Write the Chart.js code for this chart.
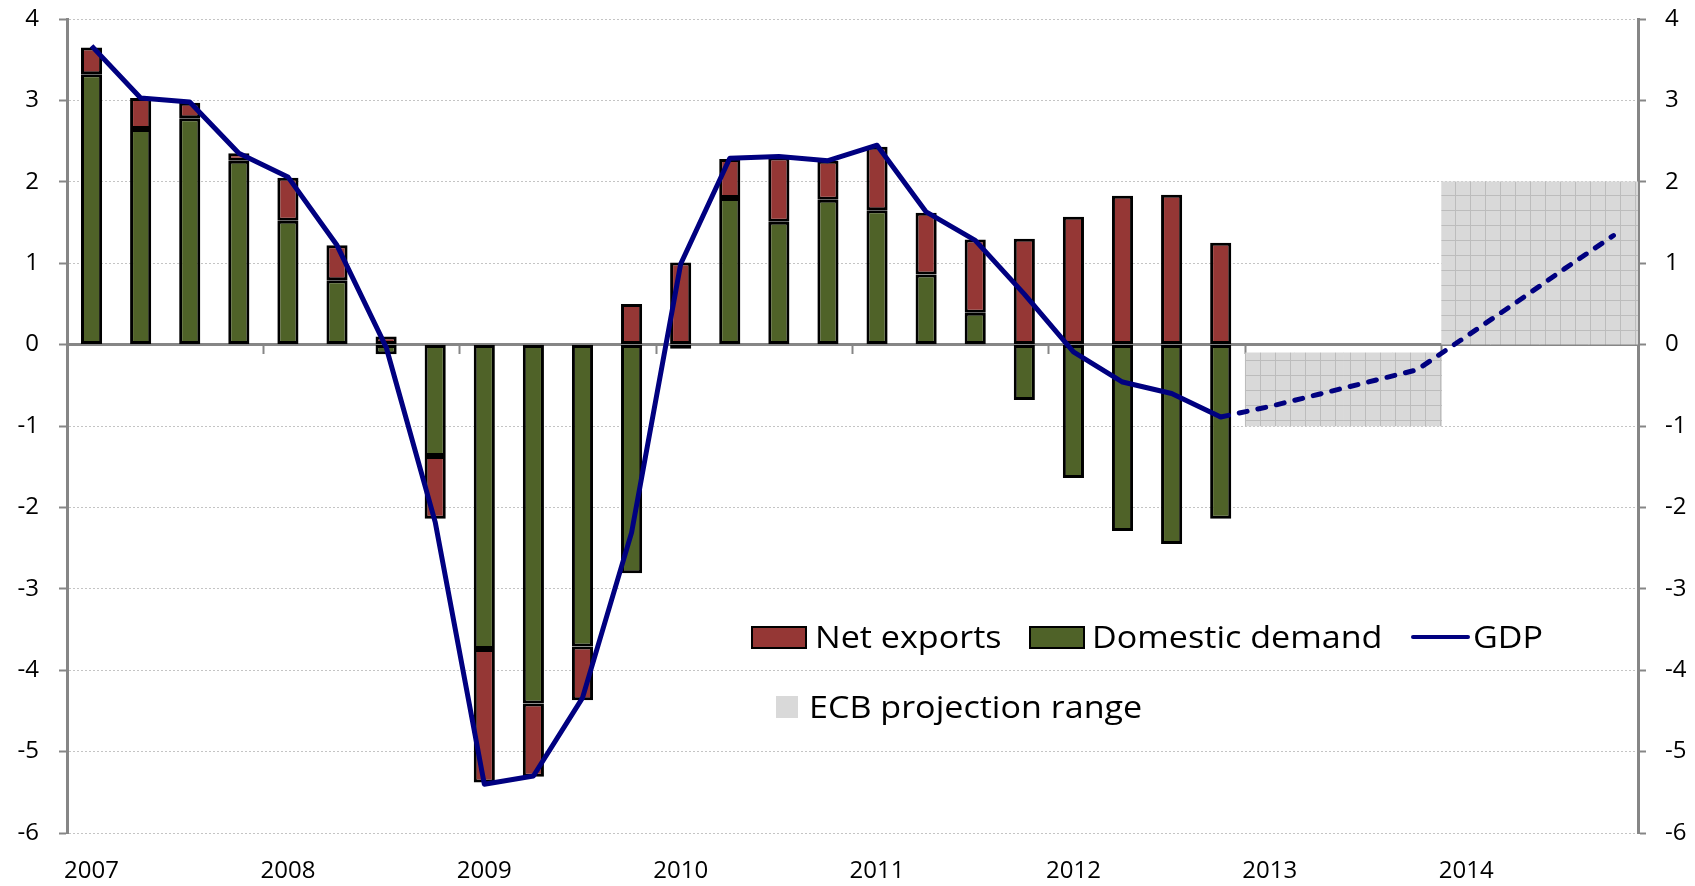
<!DOCTYPE html>
<html>
<head>
<meta charset="utf-8">
<title>Euro area GDP growth and contributions</title>
<script src="https://cdn.jsdelivr.net/npm/chart.js@4.4.1/dist/chart.umd.min.js"></script>
<style>
    html, body { margin: 0; padding: 0; background: #fff; }
    #wrap { position: relative; width: 1695px; height: 886px; font-family: 'Open Sans', sans-serif; color: #000; }
    #chart { position: absolute; left: 0; top: 0; }
    .lg-box { position: absolute; box-sizing: border-box; }
    .lg-text { position: absolute; font-size: 31px; line-height: 31px; white-space: nowrap; transform: scaleX(1.1); transform-origin: left top; }
</style>
</head>
<body>
<div id="wrap">
    <canvas id="chart" width="1695" height="886"></canvas>

    <div class="lg-box" style="left:751px; top:626px; width:56px; height:23px; background:#953735; border:2px solid #000;"></div>
    <div class="lg-text" style="left:815px; top:621px;">Net exports</div>
    <div class="lg-box" style="left:1029px; top:626px; width:56px; height:23px; background:#4F6228; border:2px solid #000;"></div>
    <div class="lg-text" style="left:1092px; top:621px;">Domestic demand</div>
    <div class="lg-box" style="left:1411px; top:635px; width:59px; height:4px; background:#000080; border-radius:2px;"></div>
    <div class="lg-text" style="left:1473px; top:621px;">GDP</div>

    <div class="lg-box" style="left:776px; top:696px; width:22px; height:22px; background:#d9d9d9;"></div>
    <div class="lg-text" style="left:809px; top:691px;">ECB projection range</div>
</div>

<script>
// --- Data (year-on-year % change, contributions in pp) ---
const quarterLabels = [
    '2007', '', '', '', '2008', '', '', '', '2009', '', '', '', '2010', '', '', '',
    '2011', '', '', '', '2012', '', '', '', '2013', '', '', '', '2014', '', '', ''
];

// 2007Q1 - 2012Q4
const domesticDemand = [
    3.32, 2.65, 2.78, 2.26, 1.52, 0.79, -0.12, -1.37,
    -3.74, -4.41, -3.71, -2.81, -0.05, 1.80, 1.51, 1.78,
    1.65, 0.86, 0.39, -0.68, -1.64, -2.29, -2.45, -2.14
];
const netExports = [
    0.33, 0.38, 0.19, 0.09, 0.53, 0.43, 0.10, -0.77,
    -1.64, -0.90, -0.66, 0.50, 1.01, 0.48, 0.79, 0.48,
    0.78, 0.76, 0.90, 1.30, 1.57, 1.83, 1.84, 1.25
];
const gdp = [
    3.67, 3.03, 2.98, 2.35, 2.06, 1.22, -0.03, -2.18,
    -5.40, -5.30, -4.34, -2.31, 0.99, 2.29, 2.31, 2.26,
    2.45, 1.63, 1.28, 0.62, -0.09, -0.46, -0.60, -0.89
];

// 2012Q4 - 2014Q4 (projection path)
const gdpProjection = [-0.89, -0.76, -0.61, -0.46, -0.31, 0.10, 0.51, 0.93, 1.34];

// 2013Q1 - 2014Q4
const ecbLow = [-1.0, -1.0, -1.0, -1.0, 0.0, 0.0, 0.0, 0.0];
const ecbHigh = [-0.1, -0.1, -0.1, -0.1, 2.0, 2.0, 2.0, 2.0];

// --- Styling ---
const axisGray = '#868686';
const tickFont = { family: "'Open Sans', sans-serif", size: 24 };

function makeRangePattern() {
    const c = document.createElement('canvas');
    c.width = 15;
    c.height = 15;
    const g = c.getContext('2d');
    g.fillStyle = '#d9d9d9';
    g.fillRect(0, 0, 15, 15);
    g.fillStyle = '#bcbcbc';
    g.fillRect(0, 0, 15, 1);
    g.fillRect(0, 0, 1, 15);
    return g.createPattern(c, 'repeat');
}

const projectionSeries = Array(gdp.length - 1).fill(null).concat(gdpProjection);
const rangeSeries = Array(gdp.length).fill(null).concat(ecbLow.map((lo, i) => [lo, ecbHigh[i]]));

// year boundary tick marks on the zero line
const yearTick = ctx => (ctx.index > 0 && ctx.index % 4 === 0 ? axisGray : 'rgba(0,0,0,0)');

// fixed axis box sizes so the plot area sits where the original does
const fitValueAxis = width => s => {
    s.width = width;
    s.paddingTop = 19;
    s.paddingBottom = 19;
};

// --- Chart ---
Chart.defaults.font.family = "'Open Sans', sans-serif";
Chart.defaults.color = '#000';

new Chart(document.getElementById('chart'), {
    type: 'bar',
    data: {
        labels: quarterLabels,
        datasets: [
            {
                label: 'GDP', type: 'line', data: gdp, stack: 'gdp',
                xAxisID: 'x', yAxisID: 'y', order: 0,
                borderColor: '#000080', borderWidth: 5, pointRadius: 0, tension: 0,
                borderJoinStyle: 'round', fill: false
            },
            {
                label: 'GDP projection', type: 'line', data: projectionSeries, stack: 'gdpProj',
                xAxisID: 'x', yAxisID: 'y', order: 0,
                borderColor: '#000080', borderWidth: 5, pointRadius: 0, tension: 0,
                borderDash: [8, 11], borderCapStyle: 'round', borderJoinStyle: 'round', fill: false
            },
            {
                label: 'Domestic demand', data: domesticDemand,
                xAxisID: 'x', yAxisID: 'y', order: 1,
                backgroundColor: '#4F6228', borderColor: '#000', borderWidth: 3, borderSkipped: false,
                barPercentage: 0.43, categoryPercentage: 1
            },
            {
                label: 'Net exports', data: netExports,
                xAxisID: 'x', yAxisID: 'y', order: 1,
                backgroundColor: '#953735', borderColor: '#000', borderWidth: 3, borderSkipped: false,
                barPercentage: 0.43, categoryPercentage: 1
            },
            {
                label: 'ECB projection range', data: rangeSeries, stack: 'ecb', grouped: false,
                xAxisID: 'x', yAxisID: 'y', order: 2,
                backgroundColor: makeRangePattern(), borderWidth: 0,
                barPercentage: 1, categoryPercentage: 1
            }
        ]
    },
    options: {
        responsive: false,
        animation: false,
        layout: { padding: 0 },
        plugins: { legend: { display: false }, tooltip: { enabled: false } },
        scales: {
            x: {
                type: 'category', position: 'bottom', stacked: true, offset: true,
                grid: { display: false, drawTicks: false, offset: true },
                border: { display: false },
                ticks: { autoSkip: false, maxRotation: 0, minRotation: 0, padding: 24, font: tickFont, color: '#000' },
                afterFit: s => { s.height = 53; }
            },
            xZero: {
                type: 'category', position: { y: 0 }, offset: true, z: 1,
                grid: { offset: true, drawOnChartArea: false, drawTicks: true, tickLength: 8, tickWidth: 2, color: yearTick, tickColor: yearTick },
                border: { color: axisGray, width: 3 },
                ticks: { display: false }
            },
            y: {
                position: 'left', stacked: true, min: -6, max: 4,
                ticks: { stepSize: 1, padding: 20, font: tickFont, color: '#000' },
                grid: { color: '#c4c4c4', lineWidth: 1, tickLength: 8, tickWidth: 2, tickColor: axisGray },
                border: { color: axisGray, width: 3, dash: [2, 2] },
                afterFit: fitValueAxis(67)
            },
            y2: {
                position: 'right', min: -6, max: 4,
                ticks: { stepSize: 1, padding: 19, font: tickFont, color: '#000' },
                grid: { drawOnChartArea: false, tickLength: 8, tickWidth: 2, tickColor: axisGray },
                border: { color: axisGray, width: 3 },
                afterFit: fitValueAxis(57)
            }
        }
    }
});
</script>
</body>
</html>
